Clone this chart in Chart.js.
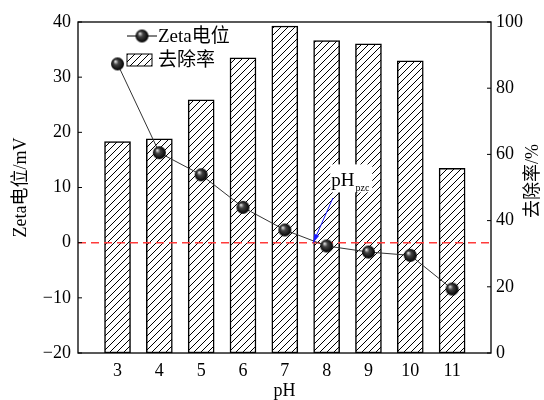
<!DOCTYPE html>
<html>
<head>
<meta charset="utf-8">
<script src="https://cdn.jsdelivr.net/npm/chart.js@4.4.1/dist/chart.umd.min.js"></script>
<style>
html, body { margin: 0; padding: 0; background: #fff; }
</style>
</head>
<body>
<canvas id="myChart" width="544" height="400"></canvas>
<script>
var phValues = [3, 4, 5, 6, 7, 8, 9, 10, 11];
var zetaValues = [32.4, 16.3, 12.3, 6.4, 2.3, -0.6, -1.7, -2.3, -8.4];
var removalValues = [63.9, 64.7, 76.5, 89.2, 98.8, 94.4, 93.4, 88.3, 55.8];
var zetaTicks = [-20, -10, 0, 10, 20, 30, 40];
var removalTicks = [0, 20, 40, 60, 80, 100];

var serif = "'Liberation Serif', 'Times New Roman', 'Noto Sans CJK SC', serif";

// diagonal hatch fill for the bars
function makeHatch() {
    var c = document.createElement('canvas');
    c.width = 7; c.height = 7;
    var g = c.getContext('2d');
    g.fillStyle = '#fff';
    g.fillRect(0, 0, 7, 7);
    g.strokeStyle = '#000';
    g.lineWidth = 1;
    g.beginPath();
    g.moveTo(-1, 1); g.lineTo(1, -1);
    g.moveTo(-1, 8); g.lineTo(8, -1);
    g.moveTo(6, 8); g.lineTo(8, 6);
    g.stroke();
    return c;
}

// shaded ball marker
function makeBall(r) {
    var s = r * 2 + 2;
    var c = document.createElement('canvas');
    c.width = s; c.height = s;
    var g = c.getContext('2d');
    var grd = g.createRadialGradient(s / 2 - r * 0.35, s / 2 - r * 0.4, r * 0.05, s / 2, s / 2, r);
    grd.addColorStop(0, '#e8e8e8');
    grd.addColorStop(0.35, '#444');
    grd.addColorStop(1, '#000');
    g.fillStyle = grd;
    g.beginPath();
    g.arc(s / 2, s / 2, r, 0, Math.PI * 2);
    g.fill();
    return c;
}

var ctx = document.getElementById('myChart').getContext('2d');
var hatch = ctx.createPattern(makeHatch(), 'repeat');
var ball = makeBall(6.5);

function minus(v) {
    return v < 0 ? '\u2212' + Math.abs(v) : '' + v;
}

var decor = {
    id: 'decor',
    afterDatasetDraw: function (chart, args) {
        if (args.index !== 1) return;
        // red dashed zero line, between bars and the zeta line
        var a = chart.chartArea;
        var y0 = chart.scales.y.getPixelForValue(0);
        var c = chart.ctx;
        c.save();
        c.strokeStyle = '#ff3b3b';
        c.lineWidth = 1.5;
        c.setLineDash([8, 5]);
        c.beginPath();
        c.moveTo(a.left, y0);
        c.lineTo(a.right, y0);
        c.stroke();
        c.restore();
    },
    afterDatasetsDraw: function (chart) {
        var c = chart.ctx;
        var a = chart.chartArea;
        var sx = chart.scales.x, sy = chart.scales.y, sy1 = chart.scales.y1;
        c.save();

        // frame
        c.strokeStyle = '#000';
        c.lineWidth = 1.3;
        c.strokeRect(a.left, a.top, a.right - a.left, a.bottom - a.top);

        // inward ticks
        c.lineWidth = 1;
        c.beginPath();
        zetaTicks.forEach(function (v) {
            var y = sy.getPixelForValue(v);
            c.moveTo(a.left, y); c.lineTo(a.left + 4, y);
        });
        removalTicks.forEach(function (v) {
            var y = sy1.getPixelForValue(v);
            c.moveTo(a.right, y); c.lineTo(a.right - 4, y);
        });
        c.stroke();

        // pH_pzc label with arrow
        var lx = sx.getPixelForValue(8.11), ly = sy.getPixelForValue(10.2);
        c.fillStyle = '#fff';
        c.fillRect(lx - 1, ly - 22, 42, 28);
        c.fillStyle = '#000';
        c.textBaseline = 'alphabetic';
        c.textAlign = 'left';
        c.font = '19px ' + serif;
        c.fillText('pH', lx, ly);
        var w = c.measureText('pH').width;
        c.font = '10px ' + serif;
        c.fillText('pzc', lx + w + 1, ly + 5);

        var ax0 = sx.getPixelForValue(8.15), ay0 = sy.getPixelForValue(8.1);
        var ax1 = sx.getPixelForValue(7.68), ay1 = sy.getPixelForValue(0);
        c.strokeStyle = '#1a1aff';
        c.fillStyle = '#1a1aff';
        c.lineWidth = 1;
        c.beginPath();
        c.moveTo(ax0, ay0); c.lineTo(ax1, ay1);
        c.stroke();
        var ang = Math.atan2(ay1 - ay0, ax1 - ax0);
        c.beginPath();
        c.moveTo(ax1, ay1);
        c.lineTo(ax1 - 9 * Math.cos(ang - 0.3), ay1 - 9 * Math.sin(ang - 0.3));
        c.lineTo(ax1 - 9 * Math.cos(ang + 0.3), ay1 - 9 * Math.sin(ang + 0.3));
        c.closePath();
        c.fill();

        // legend
        c.strokeStyle = '#000';
        c.fillStyle = '#000';
        c.beginPath();
        c.moveTo(127, 36); c.lineTo(157, 36);
        c.stroke();
        c.drawImage(ball, 142 - ball.width / 2, 36 - ball.height / 2);
        c.font = '19px ' + serif;
        c.textBaseline = 'middle';
        c.fillText('Zeta电位', 158, 37);
        c.fillStyle = hatch;
        c.fillRect(127, 54, 25, 12);
        c.strokeRect(127, 54, 25, 12);
        c.fillStyle = '#000';
        c.fillText('去除率', 158, 61);

        // right axis title, reads bottom to top
        c.translate(533, 181);
        c.rotate(-Math.PI / 2);
        c.textAlign = 'center';
        c.font = '18px ' + serif;
        c.fillText('去除率/%', 0, 0);
        c.restore();
    }
};

var myChart = new Chart(ctx, {
    data: {
        datasets: [{
            type: 'line',
            label: 'Zeta电位',
            data: phValues.map(function (p, i) { return { x: p, y: zetaValues[i] }; }),
            yAxisID: 'y',
            borderColor: '#333',
            borderWidth: 1,
            pointStyle: ball,
            pointRadius: 7,
            order: 0
        }, {
            type: 'bar',
            label: '去除率',
            data: phValues.map(function (p, i) { return { x: p, y: removalValues[i] }; }),
            yAxisID: 'y1',
            backgroundColor: hatch,
            borderColor: '#000',
            borderWidth: 1.5,
            borderSkipped: false,
            barThickness: 26,
            order: 1
        }]
    },
    options: {
        responsive: false,
        animation: false,
        layout: { padding: { top: 22, left: 0, right: 0, bottom: 0 } },
        plugins: {
            legend: { display: false },
            tooltip: { enabled: false }
        },
        scales: {
            x: {
                type: 'linear',
                min: 2.055,
                max: 11.93,
                offset: false,
                grid: { display: false, drawTicks: false },
                border: { display: false },
                afterBuildTicks: function (s) {
                    s.ticks = phValues.map(function (v) { return { value: v }; });
                },
                afterFit: function (s) { s.height = 47; },
                ticks: {
                    padding: 7,
                    color: '#000',
                    font: { family: serif, size: 18 }
                },
                title: {
                    display: true,
                    text: 'pH',
                    color: '#000',
                    padding: 0,
                    font: { family: serif, size: 18, lineHeight: 1 }
                }
            },
            y: {
                position: 'left',
                min: -20,
                max: 40,
                grid: { display: false, drawTicks: false },
                border: { display: false },
                afterBuildTicks: function (s) {
                    s.ticks = zetaTicks.map(function (v) { return { value: v }; });
                },
                afterFit: function (s) { s.width = 78; },
                ticks: {
                    padding: 7,
                    color: '#000',
                    font: { family: serif, size: 18 },
                    callback: function (v) { return minus(v); }
                },
                title: {
                    display: true,
                    text: 'Zeta电位/mV',
                    color: '#000',
                    padding: { top: 12, bottom: 0 },
                    font: { family: serif, size: 18, lineHeight: 1 }
                }
            },
            y1: {
                position: 'right',
                min: 0,
                max: 100,
                grid: { display: false, drawTicks: false },
                border: { display: false },
                afterBuildTicks: function (s) {
                    s.ticks = removalTicks.map(function (v) { return { value: v }; });
                },
                afterFit: function (s) { s.width = 53; },
                ticks: {
                    padding: 5,
                    color: '#000',
                    font: { family: serif, size: 18 }
                }
            }
        }
    },
    plugins: [decor]
});
</script>
</body>
</html>
